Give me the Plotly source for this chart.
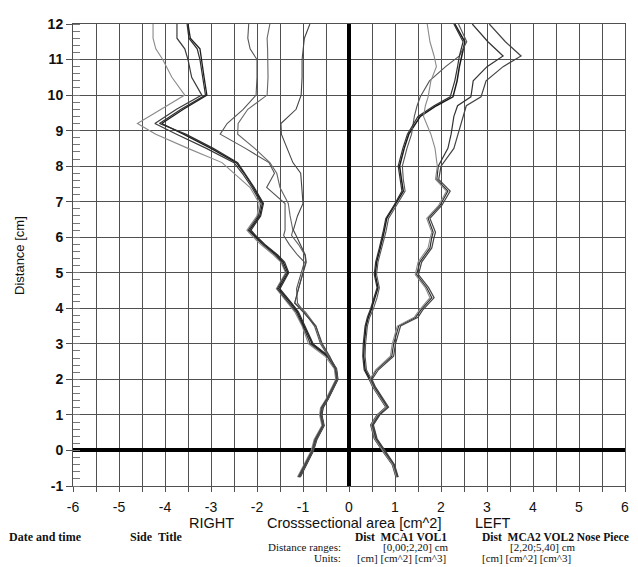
import plotly.graph_objects as go

# ---------------- data ----------------
# Distance grid (cm) for the RIGHT-side (negative area) curves
dist_right = [-0.75, -0.4, 0.0, 0.3, 0.7, 1.0, 1.2, 1.45, 1.8, 2.0, 2.3, 2.65, 3.0, 3.5, 3.9, 4.15,
              4.55, 5.0, 5.3, 5.5, 5.8, 6.05, 6.2, 6.6, 6.95, 7.4, 7.8, 8.1, 8.5, 8.9, 9.2, 9.6,
              10.0, 10.5, 11.0, 11.3, 11.6, 12.0]

right_a1 = [-1.12, -0.98, -0.82, -0.76, -0.59, -0.64, -0.62, -0.50, -0.37, -0.29, -0.32, -0.52, -0.88,
            -1.02, -1.18, -1.33, -1.58, -1.38, -1.48, -1.64, -1.92, -2.12, -2.22, -2.0, -1.95, -2.15,
            -2.5, -2.76, -3.5, -4.2, -4.6, -4.1, -3.57, -3.85, -4.05, -4.2, -4.26, -4.26]
right_a2 = [-1.10, -0.96, -0.80, -0.74, -0.57, -0.62, -0.60, -0.48, -0.35, -0.27, -0.30, -0.48, -0.84,
            -1.0, -1.15, -1.30, -1.56, -1.36, -1.46, -1.60, -1.88, -2.08, -2.19, -1.97, -1.91, -2.11,
            -2.32, -2.5, -3.1, -3.75, -4.22, -3.75, -3.2, -3.42, -3.5, -3.57, -3.74, -3.74]
right_a3 = [-1.08, -0.94, -0.78, -0.72, -0.55, -0.60, -0.58, -0.46, -0.33, -0.25, -0.28, -0.46, -0.80,
            -0.97, -1.12, -1.27, -1.53, -1.33, -1.43, -1.57, -1.85, -2.05, -2.16, -1.94, -1.88, -2.08,
            -2.28, -2.45, -3.0, -3.6, -4.07, -3.6, -3.09, -3.15, -3.2, -3.24, -3.45, -3.5]
right_a4 = [-1.06, -0.92, -0.77, -0.70, -0.54, -0.59, -0.56, -0.45, -0.32, -0.24, -0.27, -0.44, -0.78,
            -0.95, -1.10, -1.25, -1.50, -1.31, -1.40, -1.55, -1.83, -2.03, -2.13, -1.92, -1.86, -2.06,
            -2.26, -2.42, -2.95, -3.55, -4.12, -3.65, -3.12, -3.18, -3.24, -3.3, -3.48, -3.52]
right_b1 = [-1.09, -0.95, -0.79, -0.73, -0.56, -0.61, -0.59, -0.47, -0.34, -0.26, -0.29, -0.45, -0.62,
            -0.75, -0.98, -1.12, -1.14, -1.04, -0.97, -1.12, -1.30, -1.42, -1.39, -1.39, -1.39, -1.79,
            -1.62, -1.74, -2.25, -2.8, -2.65, -2.3, -2.02, -2.0, -2.0, -2.15, -2.2, -2.18]
right_b2 = [-1.07, -0.93, -0.78, -0.71, -0.55, -0.60, -0.58, -0.46, -0.33, -0.25, -0.28, -0.44, -0.60,
            -0.72, -0.95, -1.18, -1.10, -1.0, -0.94, -0.96, -1.10, -1.25, -1.22, -1.28, -1.32, -1.5,
            -1.57, -1.72, -2.05, -2.42, -2.41, -2.2, -1.78, -1.76, -1.76, -1.77, -1.78, -1.72]
right_c = [-1.08, -0.94, -0.79, -0.72, -0.56, -0.61, -0.59, -0.47, -0.34, -0.26, -0.29, -0.42, -0.58,
           -0.72, -1.0, -1.18, -1.1, -1.0, -0.93, -0.95, -1.05, -1.15, -1.21, -1.12, -1.0, -1.02,
           -1.05, -1.22, -1.35, -1.47, -1.48, -1.15, -1.04, -1.02, -1.02, -1.0, -0.97, -0.85]

# Distance grid (cm) for the LEFT-side (positive area) curves
dist_left = [-0.75, -0.4, 0.0, 0.33, 0.72, 1.0, 1.22, 1.44, 1.8, 2.0, 2.27, 2.65, 3.0, 3.5, 3.75, 3.95,
             4.3, 4.58, 4.95, 5.3, 5.7, 6.0, 6.14, 6.53, 6.9, 7.3, 7.63, 8.0, 8.5, 8.9, 9.4, 9.7,
             9.95, 10.4, 10.8, 11.1, 11.5, 12.0]

left_i1 = [1.04, 0.96, 0.74, 0.57, 0.49, 0.63, 0.82, 0.71, 0.53, 0.46, 0.35, 0.32, 0.33, 0.37, 0.42,
           0.48, 0.57, 0.63, 0.57, 0.6, 0.68, 0.74, 0.76, 0.82, 1.0, 1.18, 1.14, 1.1, 1.2, 1.3, 1.55,
           1.9, 2.26, 2.35, 2.4, 2.45, 2.52, 2.3]
left_i2 = [1.06, 0.98, 0.77, 0.60, 0.52, 0.66, 0.84, 0.74, 0.56, 0.49, 0.38, 0.35, 0.36, 0.40, 0.45,
           0.52, 0.61, 0.66, 0.60, 0.63, 0.71, 0.77, 0.80, 0.86, 1.04, 1.22, 1.18, 1.16, 1.26, 1.36,
           1.42, 1.48, 1.55, 1.75, 2.1, 2.4, 2.56, 2.38]
left_i3 = [1.02, 0.94, 0.72, 0.55, 0.47, 0.61, 0.80, 0.69, 0.51, 0.44, 0.33, 0.30, 0.31, 0.35, 0.40,
           0.46, 0.55, 0.61, 0.55, 0.58, 0.66, 0.72, 0.74, 0.80, 0.98, 1.15, 1.11, 1.07, 1.17, 1.27,
           1.5, 1.85, 2.2, 2.3, 2.36, 2.4, 2.48, 2.28]
left_o1 = [1.05, 0.97, 0.75, 0.58, 0.50, 0.64, 0.83, 0.72, 0.54, 0.47, 0.6, 0.93, 0.97, 1.08, 1.45,
           1.56, 1.8, 1.69, 1.47, 1.54, 1.76, 1.8, 1.83, 1.72, 1.98, 2.15, 1.91, 1.94, 2.15, 2.22,
           2.28, 2.36, 2.65, 2.7, 3.0, 3.35, 3.02, 2.68]
left_o2 = [1.07, 0.99, 0.78, 0.61, 0.53, 0.67, 0.86, 0.75, 0.57, 0.50, 0.64, 0.97, 1.01, 1.12, 1.5,
           1.6, 1.85, 1.73, 1.51, 1.58, 1.8, 1.85, 1.88, 1.76, 2.02, 2.2, 1.95, 2.0, 2.28, 2.37,
           2.48, 2.55, 2.87, 2.98, 3.35, 3.74, 3.4, 3.05]
left_o3 = [1.03, 0.95, 0.73, 0.56, 0.48, 0.62, 0.81, 0.70, 0.52, 0.45, 0.58, 0.9, 0.94, 1.05, 1.42,
           1.53, 1.76, 1.66, 1.44, 1.5, 1.72, 1.77, 1.8, 1.69, 1.95, 2.12, 1.88, 1.92, 1.87, 1.78,
           1.62, 1.66, 1.72, 1.78, 1.9, 1.85, 1.76, 1.7]

x_tick_vals = [-6, -5, -4, -3, -2, -1, 0, 1, 2, 3, 4, 5, 6]
y_tick_vals = [-1, 0, 1, 2, 3, 4, 5, 6, 7, 8, 9, 10, 11, 12]

# ---------------- figure ----------------
fig = go.Figure()

styles = [
    (dist_right, right_a1, "#8a8a8a", 1.1),
    (dist_right, right_a2, "#3a3a3a", 1.2),
    (dist_right, right_a3, "#1e1e1e", 1.3),
    (dist_right, right_a4, "#2e2e2e", 1.2),
    (dist_right, right_b1, "#555555", 1.1),
    (dist_right, right_b2, "#666666", 1.1),
    (dist_right, right_c, "#444444", 1.1),
    (dist_left, left_i1, "#1a1a1a", 1.5),
    (dist_left, left_i2, "#555555", 1.1),
    (dist_left, left_i3, "#333333", 1.2),
    (dist_left, left_o1, "#333333", 1.2),
    (dist_left, left_o2, "#444444", 1.2),
    (dist_left, left_o3, "#8a8a8a", 1.1),
]
for ys, xs, col, w in styles:
    fig.add_trace(go.Scatter(x=xs, y=ys, mode="lines",
                             line=dict(color=col, width=w), showlegend=False,
                             hoverinfo="skip"))

grid_col = "#505050"
fig.update_xaxes(range=[-6, 6], tickvals=x_tick_vals,
                 ticktext=[str(v) for v in x_tick_vals],
                 showgrid=True, gridcolor=grid_col, gridwidth=1,
                 minor=dict(dtick=0.5, showgrid=True, gridcolor=grid_col, gridwidth=1,
                            ticks="outside", ticklen=5, tickcolor=grid_col),
                 ticks="outside", ticklen=5, tickcolor=grid_col,
                 zeroline=True, zerolinecolor="black", zerolinewidth=4,
                 showline=True, linecolor=grid_col, linewidth=1, mirror=True,
                 tickfont=dict(family="Liberation Sans, Arial", size=14, color="#111"),
                 ticklabelstandoff=3, ticklabeloverflow="allow", fixedrange=True)
fig.update_yaxes(range=[-1, 12], tickvals=y_tick_vals,
                 ticktext=[str(v) for v in y_tick_vals],
                 showgrid=True, gridcolor=grid_col, gridwidth=1,
                 minor=dict(dtick=0.2, showgrid=False, ticks="inside", ticklen=7,
                            tickcolor="#777777"),
                 ticks="outside", ticklen=6, tickcolor=grid_col,
                 zeroline=True, zerolinecolor="black", zerolinewidth=4,
                 showline=True, linecolor=grid_col, linewidth=1, mirror=True,
                 tickfont=dict(family="Liberation Sans, Arial", size=14, color="#111",
                               weight="bold"),
                 ticklabeloverflow="allow", fixedrange=True)

# The page body has an 8px margin; size the figure so that it fills the window.
OFF = 8
W, H = 638 - OFF, 567 - OFF
PX0, PX1, PY0, PY1 = 73, 625, 16, 486        # plot area in window pixels
L, R = PX0 - OFF, (OFF + W) - PX1
T, B = PY0 - OFF, (OFF + H) - PY1
pw, ph = PX1 - PX0, PY1 - PY0


def px_to_paper(px, py):
    return (px - PX0) / pw, (PY1 - py) / ph


annos = []


def add_text(text, px, py, xanchor="center", size=12, family="Liberation Serif",
             bold=False, angle=0):
    x, y = px_to_paper(px, py)
    annos.append(dict(text=text, x=x, y=y, xref="paper", yref="paper",
                      xanchor=xanchor, yanchor="middle", showarrow=False,
                      textangle=angle,
                      font=dict(family=family, size=size, color="#111",
                                weight="bold" if bold else "normal")))


sans = "Liberation Sans, Arial"
add_text("Distance [cm]", 20, 252, size=13, family=sans, angle=-90)
add_text("RIGHT", 211, 524, size=14.5, family=sans)
add_text("Crosssectional area [cm^2]", 354, 524, size=14.5, family=sans)
add_text("LEFT", 493, 524, size=14.5, family=sans)

add_text("Date and time", 7, 538, xanchor="left", bold=True)
add_text("Side&nbsp;&nbsp;Title", 128, 538, xanchor="left", bold=True)
add_text("Dist&nbsp;&nbsp;MCA1 VOL1", 353, 538, xanchor="left", bold=True, size=11.5)
add_text("Dist&nbsp;&nbsp;MCA2 VOL2 Nose Piece", 480, 538, xanchor="left", bold=True, size=11.5)
add_text("Distance ranges:", 343, 548, xanchor="right", size=11)
add_text("[0,00;2,20] cm", 381, 548, xanchor="left", size=11)
add_text("[2,20;5,40] cm", 508, 548, xanchor="left", size=11)
add_text("Units:", 343, 559, xanchor="right", size=11)
add_text("[cm] [cm^2] [cm^3]", 355, 559, xanchor="left", size=11)
add_text("[cm] [cm^2] [cm^3]", 480, 559, xanchor="left", size=11)

fig.update_layout(width=W, height=H,
                  margin=dict(l=L, r=R, t=T, b=B, pad=0),
                  paper_bgcolor="white", plot_bgcolor="white",
                  annotations=annos, showlegend=False)

fig.write_html("out.html")
